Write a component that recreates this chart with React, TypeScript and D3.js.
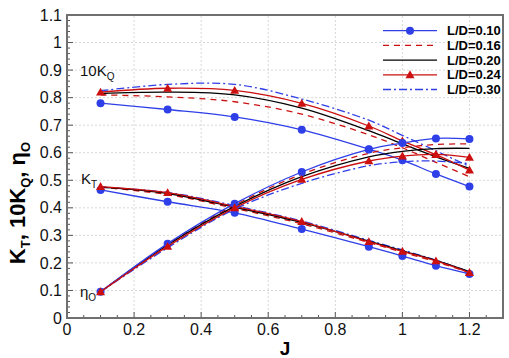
import React from "react";
import * as d3 from "d3";

const J = [0.1, 0.3, 0.5, 0.7, 0.9, 1.0, 1.1, 1.2];
const seriesNames = ["L/D=0.10", "L/D=0.16", "L/D=0.20", "L/D=0.24", "L/D=0.30"];

const KQ10_010 = [0.78, 0.757, 0.73, 0.683, 0.613, 0.573, 0.523, 0.477];
const KQ10_016 = [0.81, 0.803, 0.785, 0.74, 0.665, 0.618, 0.565, 0.513];
const KQ10_020 = [0.815, 0.82, 0.81, 0.762, 0.68, 0.632, 0.585, 0.543];
const KQ10_024 = [0.82, 0.834, 0.826, 0.779, 0.697, 0.643, 0.593, 0.537];
const KQ10_030 = [0.825, 0.848, 0.848, 0.795, 0.718, 0.663, 0.607, 0.55];

const KT_010 = [0.465, 0.422, 0.382, 0.323, 0.259, 0.225, 0.19, 0.16];
const KT_016 = [0.475, 0.448, 0.398, 0.342, 0.274, 0.239, 0.204, 0.165];
const KT_020 = [0.475, 0.452, 0.402, 0.347, 0.279, 0.244, 0.209, 0.168];
const KT_024 = [0.477, 0.455, 0.405, 0.35, 0.277, 0.242, 0.207, 0.165];
const KT_030 = [0.475, 0.456, 0.408, 0.352, 0.282, 0.247, 0.21, 0.168];

const ETA_010 = [0.095, 0.27, 0.415, 0.53, 0.612, 0.635, 0.652, 0.65];
const ETA_016 = [0.095, 0.268, 0.41, 0.522, 0.598, 0.618, 0.63, 0.632];
const ETA_020 = [0.095, 0.265, 0.405, 0.513, 0.585, 0.605, 0.615, 0.616];
const ETA_024 = [0.095, 0.26, 0.4, 0.503, 0.57, 0.588, 0.594, 0.583];
const ETA_030 = [0.095, 0.255, 0.395, 0.489, 0.553, 0.567, 0.57, 0.56];

const xTicks = [0, 0.2, 0.4, 0.6, 0.8, 1, 1.2];
const yTicks = [0, 0.1, 0.2, 0.3, 0.4, 0.5, 0.6, 0.7, 0.8, 0.9, 1, 1.1];

const BLUE = "#2f3fe8";
const RED = "#cc1010";

const styles = [
  { color: BLUE, dash: "", marker: "circle" },
  { color: RED, dash: "6,5", marker: "none" },
  { color: "#000", dash: "", marker: "none" },
  { color: RED, dash: "", marker: "triangle" },
  { color: BLUE, dash: "8,3,2,3", marker: "none" },
];

const groups = [
  [KQ10_010, KQ10_016, KQ10_020, KQ10_024, KQ10_030],
  [KT_010, KT_016, KT_020, KT_024, KT_030],
  [ETA_010, ETA_016, ETA_020, ETA_024, ETA_030],
];

const x = d3.scaleLinear().domain([0, 1.3]).range([67, 503]);
const y = d3.scaleLinear().domain([0, 1.1]).range([318, 15]);

const fmt = (v: number) => String(+v.toFixed(2));

function Marker({ type, cx, cy, color }: { type: string; cx: number; cy: number; color: string }) {
  if (type === "circle") return <circle cx={cx} cy={cy} r={4} fill={color} />;
  if (type === "triangle") {
    const s = 4.5;
    return <path d={`M${cx},${cy - s}L${cx + s},${cy + s * 0.75}L${cx - s},${cy + s * 0.75}Z`} fill={color} />;
  }
  return null;
}

export default function App() {
  const line = d3
    .line<number>()
    .x((_, i) => x(J[i]))
    .y((d) => y(d))
    .curve(d3.curveCatmullRom.alpha(0.5));

  const xMinor = d3.range(0, 1.3001, 0.05);
  const yMinor = d3.range(0, 1.1001, 0.02);
  const font = "Arial, 'Liberation Sans', sans-serif";

  const order = [4, 1, 2, 0, 3];

  return (
    <svg width={509} height={358} style={{ position: "absolute", left: 0, top: 0, background: "#fff" }} fontFamily={font}>
      <rect x={0} y={0} width={509} height={358} fill="#fff" />
      {xTicks.slice(1).map((t) => (
        <line key={"gx" + t} x1={x(t)} x2={x(t)} y1={y(0)} y2={y(1.1)} stroke="#d8d8d8" strokeDasharray="2,2" strokeWidth={1} />
      ))}
      {yTicks.slice(1, -1).map((t) => (
        <line key={"gy" + t} x1={x(0)} x2={x(1.3)} y1={y(t)} y2={y(t)} stroke="#d8d8d8" strokeDasharray="2,2" strokeWidth={1} />
      ))}
      {xMinor.map((t, i) => {
        const major = i % 4 === 0;
        return <line key={"tx" + i} x1={x(t)} x2={x(t)} y1={y(0)} y2={y(0) - (major ? 6 : 3)} stroke="#555" strokeWidth={1} />;
      })}
      {yMinor.map((t, i) => {
        const major = i % 5 === 0;
        return <line key={"ty" + i} x1={x(0)} x2={x(0) + (major ? 6 : 3)} y1={y(t)} y2={y(t)} stroke="#555" strokeWidth={1} />;
      })}
      {groups.map((g, gi) =>
        order.map((si) => {
          const st = styles[si];
          return (
            <g key={`c${gi}-${si}`}>
              <path d={line(g[si]) || ""} fill="none" stroke={st.color} strokeWidth={1.3} strokeDasharray={st.dash} />
              {st.marker !== "none" &&
                g[si].map((v, i) => <Marker key={i} type={st.marker} cx={x(J[i])} cy={y(v)} color={st.color} />)}
            </g>
          );
        })
      )}
      <rect x={x(0)} y={y(1.1)} width={x(1.3) - x(0)} height={y(0) - y(1.1)} fill="none" stroke="#707070" strokeWidth={2} />
      {xTicks.map((t) => (
        <text key={"lx" + t} x={x(t)} y={335} textAnchor="middle" fontSize={16} fill="#111">
          {fmt(t)}
        </text>
      ))}
      {yTicks.map((t) => (
        <text key={"ly" + t} x={62} y={y(t)} dy="0.35em" textAnchor="end" fontSize={16} fill="#111">
          {fmt(t)}
        </text>
      ))}
      <text x={285} y={355} textAnchor="middle" fontSize={19} fontWeight="bold" fill="#000">
        J
      </text>
      <text transform="translate(25,203) rotate(-90)" textAnchor="middle" fontSize={22} fontWeight="bold" fill="#000">
        K<tspan fontSize={13} dy={5}>T</tspan>
        <tspan dy={-5}>, 10K</tspan>
        <tspan fontSize={13} dy={5}>Q</tspan>
        <tspan dy={-5}>, η</tspan>
        <tspan fontSize={13} dy={5}>O</tspan>
      </text>
      <text x={80} y={76} fontSize={15} fill="#111">
        10K<tspan fontSize={10} dy={4}>Q</tspan>
      </text>
      <text x={81} y={184} fontSize={15} fill="#111">
        K<tspan fontSize={10} dy={4}>T</tspan>
      </text>
      <text x={80} y={297} fontSize={15} fill="#111">
        η<tspan fontSize={10} dy={4}>O</tspan>
      </text>
      {seriesNames.map((name, i) => {
        const st = styles[i];
        const yy = 30.7 + i * 14.7;
        return (
          <g key={"lg" + i}>
            <line x1={383} x2={437} y1={yy} y2={yy} stroke={st.color} strokeWidth={1.3} strokeDasharray={st.dash} />
            {st.marker !== "none" && <Marker type={st.marker} cx={410} cy={yy} color={st.color} />}
            <text x={447} y={yy} dy="0.36em" fontSize={13} fontWeight="bold" fill="#000">
              {name}
            </text>
          </g>
        );
      })}
    </svg>
  );
}
